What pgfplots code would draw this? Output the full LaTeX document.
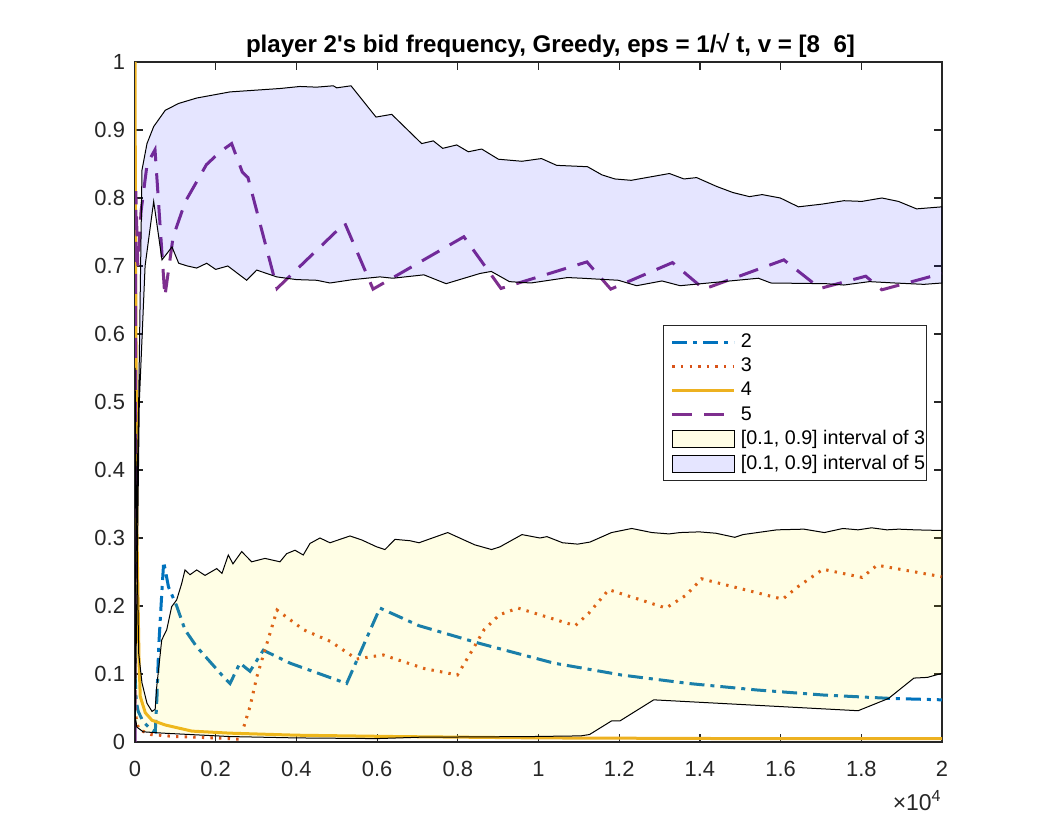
\documentclass[border=0pt]{standalone}
\usepackage{fontspec}
\setmainfont{Liberation Sans}
\usepackage{pgfplots}
\pgfplotsset{compat=1.18}
\definecolor{mblue}{rgb}{0,0.447,0.741}
\definecolor{morange}{rgb}{0.85,0.325,0.098}
\definecolor{myellow}{rgb}{0.929,0.694,0.125}
\definecolor{mpurple}{rgb}{0.494,0.184,0.556}
\definecolor{axgray}{rgb}{0.15,0.15,0.15}
\begin{document}
\begin{tikzpicture}
\path[use as bounding box] (0,0) rectangle (521bp,416.5bp);
\begin{axis}[
  at={(67.5bp,45.5bp)}, anchor=south west,
  scale only axis, width=403.5bp, height=340bp,
  clip mode=individual,
  xmin=0, xmax=20000, ymin=0, ymax=1,
  xtick={0,2000,4000,6000,8000,10000,12000,14000,16000,18000,20000},
  xticklabels={0,0.2,0.4,0.6,0.8,1,1.2,1.4,1.6,1.8,2},
  ytick={0,0.1,0.2,0.3,0.4,0.5,0.6,0.7,0.8,0.9,1},
  yticklabels={0,0.1,0.2,0.3,0.4,0.5,0.6,0.7,0.8,0.9,1},
  scaled x ticks=false,
  /pgf/number format/assume math mode=true,
  tick align=inside, major tick length=4bp,
  axis line style={draw=axgray, line width=0.6bp},
  every tick/.style={draw=axgray, line width=0.6bp},
  ticklabel style={font=\fontsize{11}{13}\selectfont, text=axgray},
  xticklabel style={yshift=-6bp},
  yticklabel style={xshift=-1.5bp},
  title={player 2\textquotesingle s bid frequency, Greedy, eps = 1/√ t, v = [8\ \ 6]},
  title style={at={(0.5,1)}, anchor=base, yshift=-1bp, xshift=6bp, font=\bfseries\fontsize{12.1}{14}\selectfont},
  legend style={at={(0.981,0.613)}, anchor=north east, draw=axgray, line width=0.5bp,
    font=\fontsize{9.9}{12}\selectfont, inner xsep=0bp, inner ysep=2bp, row sep=-0.2bp,
    nodes={inner xsep=0.5bp}, column sep=0pt,
    cells={anchor=west}},
  legend image code/.code={\path (0bp,0bp) (36.5bp,0bp); \draw[#1] (3.5bp,0bp) -- (34.5bp,0bp);},
]
% series 2
\addplot[mblue, line width=1.5bp, dash pattern=on 7.5bp off 3bp on 2bp off 3bp] coordinates {
(0,0.10) (30,0.06) (80,0.045) (200,0.03) (400,0.018) (503,0.015) (545,0.067) (587,0.14) (669,0.224) (711,0.265)
(830,0.228) (1033,0.200) (1239,0.165) (1529,0.140) (2190,0.096) (2355,0.086) (2600,0.116) (2850,0.104)
(3180,0.135) (3840,0.116) (5245,0.086) (6070,0.197) (7040,0.171) (8540,0.145) (10380,0.116)
(12060,0.0985) (13730,0.086) (15410,0.0765) (17080,0.069) (18760,0.064) (20000,0.062)};
\addlegendentry{2}
% series 3
\addplot[morange, line width=1.5bp, dash pattern=on 1.2bp off 3.1bp] coordinates {
(0,0.05) (40,0.03) (100,0.018) (400,0.011) (1000,0.008) (2000,0.006) (2600,0.004) (2684,0.020) (2850,0.052)
(3020,0.096) (3270,0.145) (3520,0.194) (4180,0.165) (4840,0.148) (5494,0.122) (5800,0.125) (6150,0.128)
(7170,0.108) (7990,0.0985) (8360,0.135) (8650,0.165) (9030,0.187) (9490,0.197) (10910,0.171)
(11240,0.189) (11740,0.224) (13160,0.197) (13660,0.216) (14040,0.240) (16050,0.210) (16420,0.228)
(17050,0.254) (18020,0.242) (18390,0.260) (20000,0.243)};
\addlegendentry{3}
% series 4
\addplot[myellow, line width=1.5bp] coordinates {
(0,1.0) (15,0.7) (50,0.3) (100,0.12) (130,0.067) (255,0.043) (420,0.032) (750,0.025) (1410,0.016)
(2350,0.013) (4000,0.010) (6500,0.008) (10000,0.006) (15000,0.005) (20000,0.005)};
\addlegendentry{4}
% series 5
\addplot[mpurple, line width=1.5bp, dash pattern=on 10bp off 6bp] coordinates {
(0,0.0) (20,0.81) (70,0.70) (150,0.78) (300,0.85) (496,0.871) (740,0.655) (945,0.743) (1250,0.795)
(1770,0.849) (2110,0.868) (2395,0.880) (2660,0.838) (2800,0.830) (3520,0.667) (5200,0.763) (5900,0.666)
(8150,0.743) (9070,0.667) (11200,0.706) (11790,0.666) (13320,0.705) (14100,0.666) (16080,0.709)
(16980,0.667) (18110,0.685) (18510,0.665) (20000,0.689)};
\addlegendentry{5}
% interval of 3
\addplot[draw=black, line width=0.5bp, fill=yellow, fill opacity=0.1,
  legend image code/.code={\path (0bp,0bp) (36.5bp,0bp); \draw[draw=black, line width=0.5bp, fill=yellow, fill opacity=0.1] (3.5bp,-4.2bp) rectangle (34.5bp,4.2bp);}] coordinates {
(0,0.55) (45,0.3) (92,0.13) (173,0.087) (297,0.057) (421,0.045) (500,0.048) (538,0.081) (662,0.150)
(786,0.165) (909,0.199) (1033,0.209) (1157,0.233) (1239,0.253) (1363,0.246) (1529,0.253) (1735,0.245)
(2024,0.255) (2156,0.248) (2312,0.275) (2428,0.262) (2644,0.280) (2892,0.265) (3221,0.270) (3593,0.265)
(3759,0.277) (3965,0.282) (4170,0.275) (4337,0.292) (4584,0.300) (4832,0.293) (5328,0.303) (5625,0.297)
(5989,0.287) (6195,0.283) (6443,0.298) (6815,0.296) (7038,0.293) (7749,0.308) (8418,0.290) (8837,0.283)
(9045,0.287) (9590,0.305) (10036,0.300) (10209,0.302) (10596,0.293) (10972,0.291) (11275,0.294)
(11810,0.308) (12311,0.314) (12811,0.308) (13233,0.306) (13505,0.308) (13986,0.309) (14397,0.307)
(14865,0.301) (15066,0.305) (15909,0.312) (16578,0.313) (17083,0.308) (17544,0.314) (17921,0.312)
(18255,0.315) (18635,0.312) (18924,0.313) (19328,0.312) (20000,0.311)
(20000,0.101) (19638,0.095) (19304,0.094) (18674,0.064) (17921,0.046) (12856,0.062) (12018,0.031)
(11810,0.031) (11265,0.011) (11052,0.009) (9800,0.008) (7038,0.007) (6000,0.005) (4000,0.006)
(2355,0.008) (700,0.013) (200,0.015) (45,0.022) (0,0.04)} -- cycle;
\addlegendentry{[0.1, 0.9] interval of 3}
% interval of 5
\addplot[draw=black, line width=0.5bp, fill=blue, fill opacity=0.1,
  legend image code/.code={\path (0bp,0bp) (36.5bp,0bp); \draw[draw=black, line width=0.5bp, fill=blue, fill opacity=0.1] (3.5bp,-4.2bp) rectangle (34.5bp,4.2bp);}] coordinates {
(0,0.2) (92,0.503) (173,0.841) (297,0.880) (463,0.905) (750,0.929) (1080,0.939) (1529,0.947) (2354,0.956)
(3593,0.961) (4089,0.964) (4500,0.963) (4914,0.965) (5000,0.962) (5353,0.965) (5973,0.919) (6362,0.923)
(7105,0.880) (7393,0.884) (7626,0.873) (7973,0.878) (8261,0.868) (8592,0.872) (9007,0.857) (9590,0.854)
(10073,0.858) (10450,0.848) (11215,0.846) (11572,0.834) (11892,0.828) (12298,0.826) (13245,0.836)
(13604,0.828) (13919,0.830) (14414,0.817) (14818,0.808) (15227,0.802) (15542,0.805) (15993,0.800)
(16441,0.787) (17029,0.791) (17569,0.796) (18015,0.795) (18511,0.800) (18919,0.795) (19370,0.784)
(20000,0.787)
(20000,0.675) (19550,0.673) (18830,0.675) (18200,0.677) (17570,0.672) (17120,0.674) (15760,0.675)
(15450,0.682) (13510,0.671) (13060,0.678) (12430,0.671) (11980,0.679) (11080,0.682) (10720,0.683)
(9810,0.675) (9280,0.677) (8830,0.692) (8550,0.689) (7710,0.674) (7160,0.687) (6390,0.682) (6071,0.684)
(5400,0.680) (4832,0.675) (4503,0.679) (4000,0.680) (3511,0.684) (3016,0.694) (2768,0.679) (2300,0.700)
(2000,0.695) (1777,0.704) (1529,0.697) (1300,0.700) (1083,0.704) (917,0.728) (669,0.709) (463,0.795)
(250,0.700) (107,0.500) (0,0.0)} -- cycle;
\addlegendentry{[0.1, 0.9] interval of 5}
\node[anchor=north east, inner sep=0pt, text=axgray, font=\fontsize{11.5}{13}\selectfont]
  at (rel axis cs:1,0) [yshift=-24bp] {\texttimes10\textsuperscript{4}};
\end{axis}
\end{tikzpicture}
\end{document}
